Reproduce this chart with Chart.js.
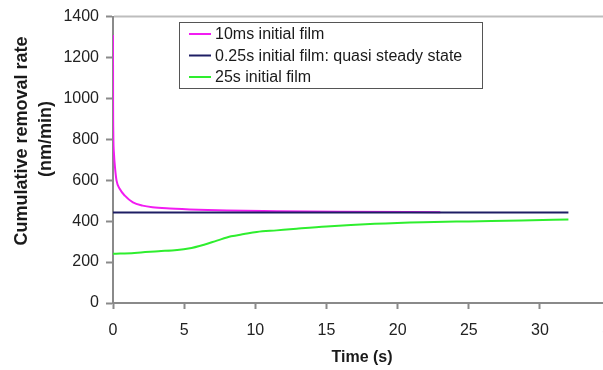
<!DOCTYPE html>
<html>
<head>
<meta charset="utf-8">
<script src="https://cdn.jsdelivr.net/npm/chart.js@4.4.0/dist/chart.umd.min.js"></script>
<style>
  html, body { margin: 0; padding: 0; background: #fff; overflow: hidden; width: 603px; height: 370px; }
  canvas { display: block; }
</style>
</head>
<body>
<canvas id="c" width="632" height="370" style="width:632px;height:370px"></canvas>
<script>
// ---- data ----
const seriesLabels = ["10ms initial film", "0.25s initial film: quasi steady state", "25s initial film"];
const seriesColors = ["#F21CF2", "#1E1E64", "#2EEE2E"];

const film10msTime  = [0, 0.005, 0.02, 0.07, 0.14, 0.25, 0.48, 0.83, 1.4, 2.08, 2.77, 4, 6, 8, 11.5, 16, 23];
const film10msRate  = [1310, 1030, 841, 728, 663, 598, 557, 525, 492, 476, 468, 462, 456, 452, 449, 446, 444];

const film025sTime  = [0, 32];
const film025sRate  = [442, 442];

const film25sTime   = [0, 1.5, 3.2, 4.5, 5.3, 6.4, 7.3, 8.3, 9.2, 10.1, 11.5, 12.9, 15, 18.4, 21.8, 25, 28.7, 32];
const film25sRate   = [241, 245, 253, 259, 266, 285, 305, 326, 337, 347, 355, 363, 374, 387, 395, 399, 403, 408];

const xTitle = "Time (s)";
const yTitleLines = ["Cumulative removal rate", "(nm/min)"];
const xMin = 0, xMax = 35, xStep = 5;
const yMin = 0, yMax = 1400, yStep = 200;

// ---- build ----
function pts(t, v) { return t.map((x, i) => ({ x: x, y: v[i] })); }
const FONT = "'Liberation Sans', Arial, sans-serif";

const seriesData = [pts(film10msTime, film10msRate), pts(film025sTime, film025sRate), pts(film25sTime, film25sRate)];

const datasets = seriesData.map((d, i) => ({
  label: seriesLabels[i],
  data: d,
  borderColor: seriesColors[i],
  backgroundColor: seriesColors[i],
  borderWidth: 2,
  pointRadius: 0,
  fill: false,
  cubicInterpolationMode: 'monotone'
}));
datasets[0].order = 2;
datasets[1].order = 1;
datasets[2].order = 3;

const decorPlugin = {
  id: 'decor',
  afterDraw(chart) {
    const ctx = chart.ctx;
    const area = chart.chartArea;
    const yTop = chart.scales.y.getPixelForValue(yMax);
    ctx.save();
    // top frame line
    ctx.strokeStyle = '#bdbdbd';
    ctx.lineWidth = 2;
    ctx.beginPath();
    ctx.moveTo(area.left + 1, yTop);
    ctx.lineTo(chart.width, yTop);
    ctx.stroke();

    ctx.fillStyle = '#1a1a1a';
    ctx.font = "bold 18px " + FONT;
    ctx.textAlign = 'center';
    ctx.textBaseline = 'middle';
    ctx.save();
    ctx.translate(22, 141);
    ctx.rotate(-Math.PI / 2);
    ctx.fillText(yTitleLines[0], 0, 0);
    ctx.restore();
    ctx.save();
    ctx.translate(46, 139);
    ctx.rotate(-Math.PI / 2);
    ctx.fillText(yTitleLines[1], 0, 0);
    ctx.restore();
    ctx.font = "bold 16px " + FONT;
    ctx.fillText(xTitle, (area.left + area.right) / 2, 358);

    const bx = 179.5, by = 22.5, bw = 303, bh = 66;
    ctx.fillStyle = '#fff';
    ctx.fillRect(bx, by, bw, bh);
    ctx.strokeStyle = '#555';
    ctx.lineWidth = 1;
    ctx.strokeRect(bx, by, bw, bh);
    ctx.font = "16px " + FONT;
    ctx.textAlign = 'left';
    ctx.textBaseline = 'middle';
    const rowsY = [34, 55.5, 77];
    seriesLabels.forEach((lab, i) => {
      ctx.strokeStyle = seriesColors[i];
      ctx.lineWidth = 2;
      ctx.beginPath();
      ctx.moveTo(189, rowsY[i]);
      ctx.lineTo(211, rowsY[i]);
      ctx.stroke();
      ctx.fillStyle = '#1a1a1a';
      ctx.fillText(lab, 215, rowsY[i] + 1);
    });
    ctx.restore();
  }
};

new Chart(document.getElementById('c'), {
  type: 'line',
  data: { datasets: datasets },
  options: {
    responsive: false,
    animation: false,
    devicePixelRatio: 1,
    layout: { padding: { top: 15, right: 11, bottom: 0, left: 0 } },
    plugins: { legend: { display: false }, tooltip: { enabled: false } },
    scales: {
      x: {
        type: 'linear',
        min: xMin, max: xMax,
        ticks: { stepSize: xStep, font: { family: FONT, size: 16 }, color: '#222', padding: 12, maxRotation: 0,
                 callback: v => String(v) },
        grid: { drawOnChartArea: false, tickLength: 6, tickColor: '#8a8a8a', tickWidth: 2 },
        border: { color: '#8a8a8a', width: 2 },
        afterFit(s) { s.height = 67; }
      },
      y: {
        type: 'linear',
        min: yMin, max: yMax,
        ticks: { stepSize: yStep, font: { family: FONT, size: 16 }, color: '#222', padding: 7,
                 callback: v => String(v) },
        grid: { drawOnChartArea: false, tickLength: 7, tickColor: '#8a8a8a', tickWidth: 2 },
        border: { color: '#8a8a8a', width: 2 },
        afterFit(s) { s.width = 113; }
      }
    }
  },
  plugins: [decorPlugin]
});
</script>
</body>
</html>
